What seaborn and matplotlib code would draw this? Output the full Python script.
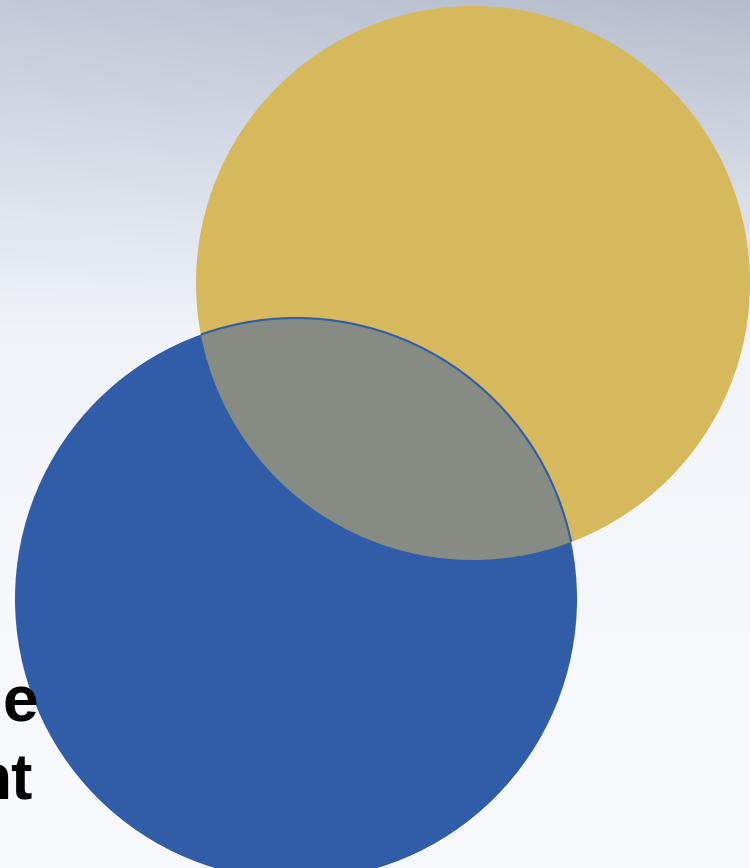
import numpy as np
import matplotlib.pyplot as plt
import seaborn as sb
from matplotlib.patches import Circle

# circle sets: centre x, centre y (pixels from top), radius
names = ['gold', 'blue']
cx = [473, 296]
cy = [283, 599]
radius = [277, 281]
colors = ['#D6B95D', '#305CA8']
overlap_color = '#868B83'

# text fragments at the left edge
words = ['e', 'nt']

sb.set_theme(style='white')
plt.rcParams['font.family'] = ['Liberation Sans', 'DejaVu Sans']

fig = plt.figure(figsize=(7.5, 8.68), dpi=100)
ax = fig.add_axes([0, 0, 1, 1])

# background gradient, bluish grey at top fading to white
W, H = 750, 868
t = np.linspace(0, 1, H)[:, None]
s = np.linspace(0, 1, W)[None, :]
top = np.array([0.76, 0.79, 0.85])
mid = np.array([0.94, 0.955, 0.975])
bot = np.array([0.972, 0.975, 0.99])
f1 = np.clip(t / 0.38, 0, 1)
f2 = np.clip((t - 0.38) / 0.4, 0, 1)
bg = np.zeros((H, W, 3))
for k in range(3):
    c = top[k] + (mid[k] - top[k]) * f1
    c = c + (bot[k] - mid[k]) * f2
    c = c - 0.05 * s * (1 - f1)
    bg[:, :, k] = c
ax.imshow(np.clip(bg, 0, 1), extent=[0, W, H, 0], zorder=0, aspect='auto')

patches = []
for i in range(len(names)):
    p = Circle((cx[i], cy[i]), radius[i], facecolor=colors[i],
               edgecolor='none', zorder=2 + i)
    ax.add_patch(p)
    patches.append(p)

# overlap: gold circle clipped by the blue one
ov = Circle((cx[0], cy[0]), radius[0], facecolor=overlap_color,
            edgecolor='none', zorder=5)
ax.add_patch(ov)
ov.set_clip_path(patches[1])

# thin blue rim of the overlap where it meets the gold
rim = Circle((cx[1], cy[1]), radius[1], facecolor='none',
             edgecolor=colors[1], linewidth=1.5, zorder=6)
ax.add_patch(rim)
rim.set_clip_path(patches[0])

ax.text(38, 722, words[0], ha='right', va='baseline', fontsize=46,
        fontweight='bold', color='black', zorder=7)
ax.text(33, 800, words[1], ha='right', va='baseline', fontsize=46,
        fontweight='bold', color='black', zorder=7)

ax.set_xlim(0, W)
ax.set_ylim(H, 0)
ax.axis('off')
plt.savefig('out.png', dpi=100)
